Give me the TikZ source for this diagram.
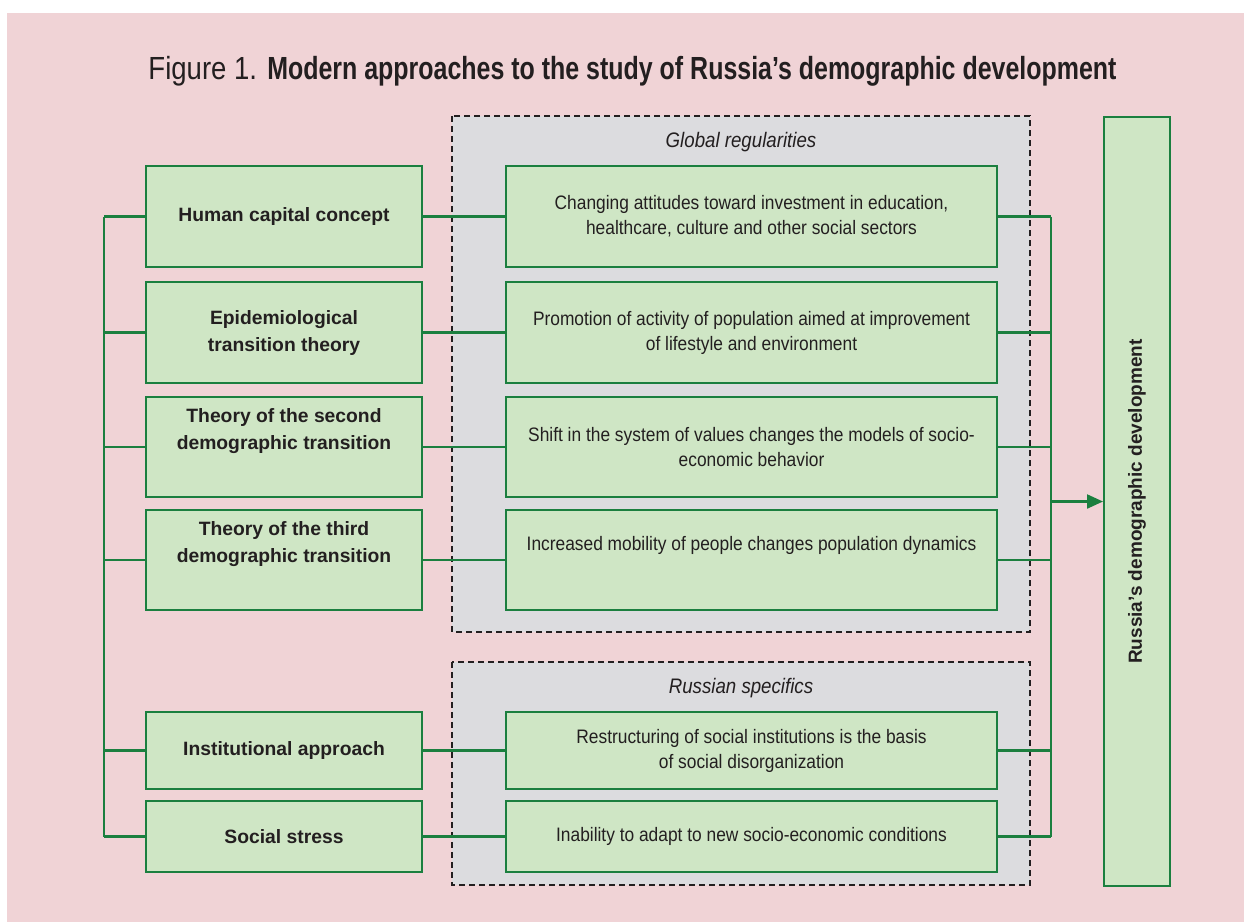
\documentclass[tikz,border=0pt]{standalone}
\usepackage{fontspec}
\setmainfont{Liberation Sans}
\newfontfamily\narrowfont{Liberation Sans}[FakeStretch=0.89]
\newfontfamily\titlefont{Liberation Sans}[FakeStretch=0.86]
\newfontfamily\titlebold{Liberation Sans Bold}[FakeStretch=0.78]
\usepackage{xcolor}
\usetikzlibrary{arrows.meta}
\usetikzlibrary{positioning}

\definecolor{pinkbg}{HTML}{F0D3D6}
\definecolor{panelgray}{HTML}{DCDCDF}
\definecolor{boxgreen}{HTML}{CFE6C5}
\definecolor{linegreen}{HTML}{1B7F3F}
\definecolor{textdark}{HTML}{231F20}

\tikzset{
  approach/.style={draw=linegreen, fill=boxgreen, line width=2pt, minimum width=276pt,
    inner sep=0pt, align=center, text=textdark, font=\bfseries\fontsize{19.3}{27}\selectfont},
  effect/.style={draw=linegreen, fill=boxgreen, line width=2pt, minimum width=491pt,
    inner sep=0pt, align=center, text=textdark, font=\narrowfont\fontsize{19.5}{25}\selectfont},
  panel/.style={fill=panelgray, draw=textdark, line width=1.3pt, dash pattern=on 6pt off 4pt},
  link/.style={draw=linegreen, line width=2.2pt},
  panellabel/.style={text=textdark, font=\narrowfont\itshape\fontsize{21}{24}\selectfont},
}

\begin{document}
\begin{tikzpicture}[x=1pt, y=-1pt] % demographic approaches figure

\useasboundingbox (0,0) rectangle (1244,922);
\fill[pinkbg] (7,13) rectangle (1244,922);

%title
\node[anchor=base, text=textdark, font=\fontsize{32}{38}\selectfont] (title) at (632.5,79)
  {\titlefont Figure 1. \titlebold Modern approaches to the study of Russia’s demographic development};

%dashed panels
\draw[panel] (452,116) rectangle (1030,632);
\draw[panel] (452,662) rectangle (1030,885);
\node[panellabel] (global) at (741,142) {Global regularities};
\node[panellabel] (specific) at (741,688) {Russian specifics};

%approaches
\node[approach, minimum height=101pt] (appr1) at (284,216.5) {Human capital concept};
\node[approach, minimum height=101pt] (appr2) at (284,332.5) {Epidemiological\\transition theory};
\node[approach, minimum height=100pt] (appr3) at (284,447) {Theory of the second\\demographic transition\\ \strut};
\node[approach, minimum height=100pt] (appr4) at (284,560) {Theory of the third\\demographic transition\\ \strut};
\node[approach, minimum height=77pt] (appr5) at (284,750.5) {Institutional approach};
\node[approach, minimum height=71pt] (appr6) at (284,836.5) {Social stress};

%effects
\node[effect, minimum height=101pt] (eff1) at (751.5,216.5) {Changing attitudes toward investment in education,\\healthcare, culture and other social sectors};
\node[effect, minimum height=101pt] (eff2) at (751.5,332.5) {Promotion of activity of population aimed at improvement\\of lifestyle and environment};
\node[effect, minimum height=100pt] (eff3) at (751.5,447) {Shift in the system of values changes the models of socio-\\economic behavior};
\node[effect, minimum height=100pt] (eff4) at (751.5,560) {Increased mobility of people changes population dynamics\\ \strut};
\node[effect, minimum height=77pt] (eff5) at (751.5,750.5) {Restructuring of social institutions is the basis\\of social disorganization};
\node[effect, minimum height=71pt] (eff6) at (751.5,836.5) {Inability to adapt to new socio-economic conditions};

%result
\node[approach, minimum width=66pt, minimum height=769pt] (russia) at (1137,501.5) {};
\node[rotate=90, text=textdark, font=\bfseries\fontsize{19}{24}\selectfont] (russialabel) at (russia.center) {Russia’s demographic development};

%left bus
\coordinate (ltop) at (104,216.5);
\coordinate (lbot) at (104,836.5);
\draw[link] (ltop) -- (lbot);
\draw[link] (appr1.west) -- (appr1.west -| ltop);
\draw[link] (appr2.west) -- (appr2.west -| ltop);
\draw[link] (appr3.west) -- (appr3.west -| ltop);
\draw[link] (appr4.west) -- (appr4.west -| ltop);
\draw[link] (appr5.west) -- (appr5.west -| ltop);
\draw[link] (appr6.west) -- (appr6.west -| ltop);

%middle links
\draw[link] (appr1) -- (eff1);
\draw[link] (appr2) -- (eff2);
\draw[link] (appr3) -- (eff3);
\draw[link] (appr4) -- (eff4);
\draw[link] (appr5) -- (eff5);
\draw[link] (appr6) -- (eff6);

%right bus
\coordinate (rtop) at (1051,216.5);
\coordinate (rbot) at (1051,836.5);
\coordinate (rmid) at (1051,501.5);
\draw[link] (rtop) -- (rbot);
\draw[link] (eff1.east) -- (eff1.east -| rtop);
\draw[link] (eff2.east) -- (eff2.east -| rtop);
\draw[link] (eff3.east) -- (eff3.east -| rtop);
\draw[link] (eff4.east) -- (eff4.east -| rtop);
\draw[link] (eff5.east) -- (eff5.east -| rtop);
\draw[link] (eff6.east) -- (eff6.east -| rtop);

%arrow
\draw[link, -{Triangle[length=16pt, width=14pt]}] (rmid) -- (russia.west);

\end{tikzpicture}
\end{document}
